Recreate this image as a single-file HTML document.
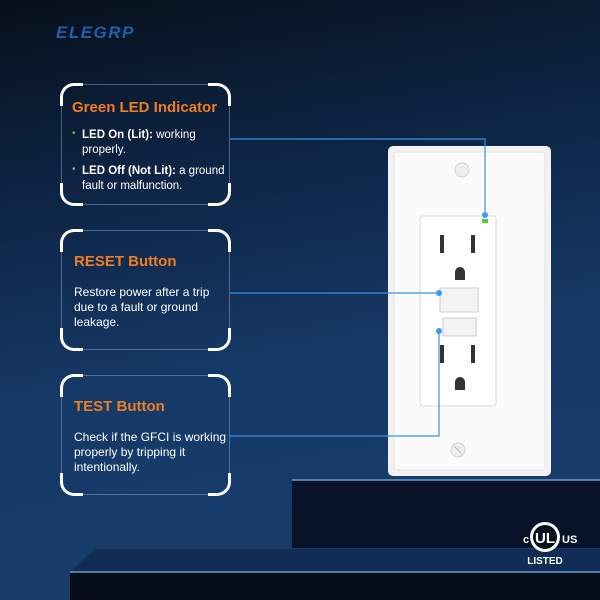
<!DOCTYPE html>
<html><head><style>
body{margin:0;width:600px;height:600px;overflow:hidden;font-family:"Liberation Sans","DejaVu Sans",sans-serif}
.bg{position:absolute;inset:0;background:linear-gradient(170deg,#07101b 0%,#0d2240 25%,#163a68 60%,#183d6c 100%)}
.box{position:absolute;left:61px;width:169px;border:1px solid rgba(150,180,220,.45);border-radius:14px;box-sizing:border-box}
.c{position:absolute;width:20px;height:20px;border:3px solid #fff}
.tl{left:-2px;top:-2px;border-right:none;border-bottom:none;border-radius:14px 0 0 0}
.tr{right:-2px;top:-2px;border-left:none;border-bottom:none;border-radius:0 14px 0 0}
.bl{left:-2px;bottom:-2px;border-right:none;border-top:none;border-radius:0 0 0 14px}
.br{right:-2px;bottom:-2px;border-left:none;border-top:none;border-radius:0 0 14px 0}
h3{position:absolute;left:12px;margin:0;color:#ef7d22;font-size:15px;font-weight:bold}
p{position:absolute;left:12px;margin:0;color:#fff;font-size:12px;line-height:15px;width:154px}
</style></head><body>
<div class="bg"></div>
<div style="position:absolute;left:56px;top:23px;color:#1f5ea8;font-weight:bold;font-size:17px;letter-spacing:1.5px;font-style:italic">ELEGRP</div>

<svg width="600" height="600" style="position:absolute;left:0;top:0">
<polygon points="292,480 600,480 600,548 292,548" fill="#08132a"/>
<line x1="292" y1="480" x2="600" y2="480" stroke="#6f9ad0" stroke-width="1.5"/>
<polygon points="95,549 600,549 600,572 70,572" fill="#112c55"/>
<rect x="70" y="572" width="530" height="28" fill="#060c18"/>
<line x1="70" y1="572" x2="600" y2="572" stroke="#6f9ad0" stroke-width="1.5"/>
<rect x="388" y="146" width="163" height="330" rx="5" fill="#f2f2f2"/>
<rect x="394" y="152" width="151" height="318" rx="3" fill="#fbfbfb" stroke="#e2e2e2"/>
<circle cx="462" cy="170" r="7" fill="#eee" stroke="#d0d0d0"/>
<circle cx="458" cy="450" r="7" fill="#eee" stroke="#d0d0d0"/>
<line x1="454" y1="446" x2="462" y2="454" stroke="#bbb"/>
<rect x="420" y="216" width="76" height="190" rx="3" fill="#fff" stroke="#d8d8d8"/>
<rect x="440" y="235" width="4" height="18" fill="#333"/><rect x="471" y="235" width="4" height="18" fill="#333"/>
<path d="M455,280 v-8 a5,5 0 0 1 10,0 v8z" fill="#333"/>
<rect x="440" y="345" width="4" height="18" fill="#333"/><rect x="471" y="345" width="4" height="18" fill="#333"/>
<path d="M455,390 v-8 a5,5 0 0 1 10,0 v8z" fill="#333"/>
<rect x="440" y="288" width="38" height="24" fill="#f4f4f4" stroke="#ccc"/>
<rect x="443" y="318" width="33" height="18" fill="#f4f4f4" stroke="#ccc"/>
<rect x="482" y="219" width="6" height="4" fill="#4cd13a"/>
<g stroke="#3b8fe0" stroke-width="1.2" fill="none">
<polyline points="230,139 485,139 485,215"/>
<polyline points="230,293 439,293"/>
<polyline points="230,436 439,436 439,331"/>
</g>
<g fill="#3b9cf0"><circle cx="485" cy="215" r="3"/><circle cx="439" cy="293" r="3"/><circle cx="439" cy="331" r="3"/></g>
<circle cx="545" cy="537" r="15" fill="#fff"/><circle cx="545" cy="537" r="12" fill="#07101f"/>
<text x="545" y="543" fill="#fff" font-size="15" font-weight="bold" text-anchor="middle" font-family="Liberation Sans">UL</text>
<text x="523" y="543" fill="#fff" font-size="11" font-weight="bold" font-family="Liberation Sans">c</text>
<text x="562" y="543" fill="#fff" font-size="11" font-weight="bold" font-family="Liberation Sans">US</text>
<text x="545" y="564" fill="#fff" font-size="10" font-weight="bold" text-anchor="middle" font-family="Liberation Sans">LISTED</text>
</svg>

<div class="box" style="top:84px;height:121px"><i class="c tl"></i><i class="c tr"></i><i class="c bl"></i><i class="c br"></i>
<h3 style="top:14px;left:10px">Green LED Indicator</h3>
<p style="top:43px;left:20px;width:148px;font-size:11.5px"><b>LED On (Lit):</b> working<br>properly.</p>
<p style="top:79px;left:20px;width:148px;font-size:11.5px"><b>LED Off (Not Lit):</b> a ground<br>fault or malfunction.</p>
<span style="position:absolute;left:10px;top:43px;color:#4cd13a;font-size:10px">•</span>
<span style="position:absolute;left:10px;top:79px;color:#8aa;font-size:10px">•</span>
</div>
<div class="box" style="top:230px;height:120px"><i class="c tl"></i><i class="c tr"></i><i class="c bl"></i><i class="c br"></i>
<h3 style="top:22px">RESET Button</h3>
<p style="top:54px">Restore power after a trip<br>due to a fault or ground<br>leakage.</p>
</div>
<div class="box" style="top:375px;height:120px"><i class="c tl"></i><i class="c tr"></i><i class="c bl"></i><i class="c br"></i>
<h3 style="top:22px">TEST Button</h3>
<p style="top:54px">Check if the GFCI is working<br>properly by tripping it<br>intentionally.</p>
</div>
</body></html>
